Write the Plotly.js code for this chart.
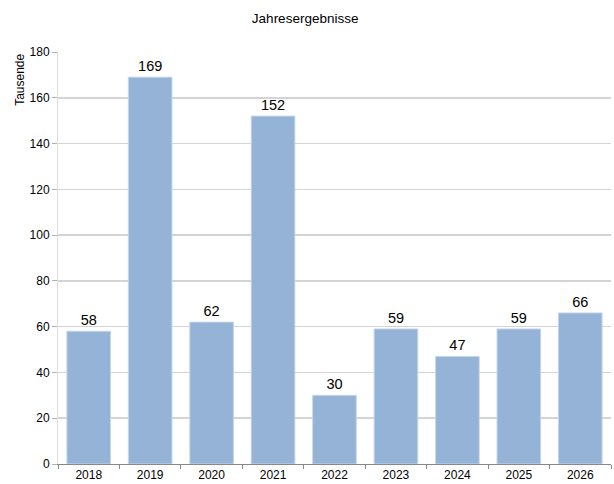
<!DOCTYPE html>
<html><head><meta charset="utf-8">
<script src="https://cdn.plot.ly/plotly-3.0.1.min.js"></script>
<style>html,body{margin:0;padding:0;background:#fff}#c{width:614px;height:484px}</style>
</head><body><div id="c"></div>
<script>
var years = ['2018','2019','2020','2021','2022','2023','2024','2025','2026'];
var values = [58,169,62,152,30,59,47,59,66];
var yTicks = [0,20,40,60,80,100,120,140,160,180];

var FONT = 'Liberation Sans, Arial, sans-serif';
var trace = {
  type:'bar', x: years, y: values,
  marker:{color:'#95b3d7', line:{color:'#c5d6ea', width:1}},
  text: values.map(String), textposition:'outside', cliponaxis:false,
  textfont:{family:FONT, size:14.5, color:'#000'},
  hoverinfo:'none'
};
var layout = {
  width:614, height:484,
  margin:{l:58, r:3, t:52, b:20},
  paper_bgcolor:'#fff', plot_bgcolor:'#fff',
  bargap:0.29,
  showlegend:false,
  font:{family:FONT, size:12, color:'#000'},
  title:{text:'Jahresergebnisse', x:0.497, xanchor:'center', y:0.963, yanchor:'middle',
    font:{family:FONT, size:13.5, color:'#000'}},
  xaxis:{type:'category', tickson:'boundaries', ticks:'outside', ticklen:4, tickcolor:'#888',
    showline:true, linecolor:'#888', linewidth:1, showgrid:false, zeroline:false,
    ticklabelstandoff:1.5,
    tickfont:{family:FONT, size:12}, fixedrange:true},
  yaxis:{range:[0,180], tickvals:yTicks, ticktext:yTicks.map(String), showgrid:true,
    gridcolor:'#d4d4d4', gridwidth:1.5, showline:true, linecolor:'#e0e0e0', linewidth:1,
    zeroline:false, ticks:'outside', ticklen:5, tickcolor:'#b0b0b0', tickwidth:1,
    tickfont:{family:FONT, size:12}, fixedrange:true},
  annotations:[{text:'Tausende', xref:'paper', yref:'paper', x:-0.069, y:1.0, xanchor:'center', yanchor:'top',
    textangle:-90, showarrow:false, font:{family:FONT, size:12, color:'#000'}}]
};
Plotly.newPlot('c',[trace],layout,{displayModeBar:false, staticPlot:true});
</script></body></html>
